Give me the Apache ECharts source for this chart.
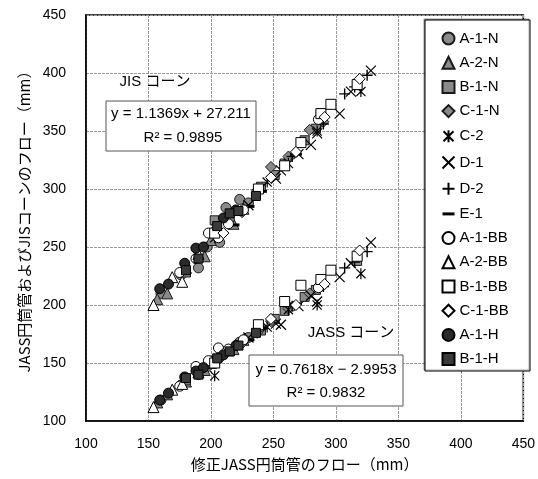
<!DOCTYPE html>
<html><head><meta charset="utf-8">
<script src="https://cdn.jsdelivr.net/npm/echarts@6/dist/echarts.min.js"></script>
<style>html,body{margin:0;padding:0;background:#fff}#c{width:538px;height:479px}</style>
</head><body><div id="c"></div>
<script>
// ---- Data (x: 修正JASS円筒管のフロー, jis: JISコーンのフロー, jass: JASS円筒管のフロー) ----
const seriesNames = ['A-1-N','A-2-N','B-1-N','C-1-N','C-2','D-1','D-2','E-1','A-1-BB','A-2-BB','B-1-BB','C-1-BB','A-1-H','B-1-H'];

const a1n_x    = [160, 176, 190, 197, 207, 212, 223, 230];
const a1n_jis  = [210, 226, 232, 250, 254, 284, 291, 288];
const a1n_jass = [118, 131, 140, 147, 155, 160, 168, 172];

const a2n_x    = [157, 165, 180, 195, 200, 218, 226];
const a2n_jis  = [205, 210, 232, 242, 256, 270, 283];
const a2n_jass = [116, 123, 134, 144, 150, 162, 170];

const b1n_x    = [180, 203, 215, 240, 251, 259, 275, 284, 288, 317];
const b1n_jis  = [228, 273, 276, 302, 312, 322, 342, 352, 365, 390];
const b1n_jass = [135, 152, 160, 178, 188, 195, 207, 213, 218, 238];

const c1n_x    = [205, 225, 237, 248, 262, 279, 290];
const c1n_jis  = [260, 280, 299, 319, 328, 351, 358];
const c1n_jass = [152, 167, 176, 186, 197, 210, 218];

const c2_x     = [203, 245, 262, 285, 320];
const c2_jis   = [258, 306, 322, 350, 384];
const c2_jass  = [139, 181, 196, 200, 227];

const d1_x     = [230, 252, 256, 270, 280, 285, 303, 312, 328];
const d1_jis   = [286, 309, 316, 330, 338, 348, 365, 384, 402];
const d1_jass  = [172, 184, 183, 199, 208, 203, 224, 236, 254];

const d2_x     = [265, 290, 307, 315, 325];
const d2_jis   = [328, 356, 382, 388, 398];
const d2_jass  = [199, 216, 232, 237, 246];

const e1_x     = [218, 230, 240, 268];
const e1_jis   = [269, 285, 298, 330];
const e1_jass  = [163, 170, 180, 201];

const a1bb_x    = [175, 188, 198, 206, 214, 226, 286];
const a1bb_jis  = [228, 240, 262, 258, 270, 282, 360];
const a1bb_jass = [130, 147, 152, 163, 162, 170, 215];

const a2bb_x    = [154, 169, 177, 190];
const a2bb_jis  = [200, 224, 220, 244];
const a2bb_jass = [112, 127, 132, 142];

const b1bb_x    = [203, 238, 259, 272, 288, 296, 317];
const b1bb_jis  = [262, 300, 320, 340, 365, 373, 390];
const b1bb_jass = [150, 183, 203, 217, 222, 230, 242];

const c1bb_x    = [210, 248, 268, 291, 319];
const c1bb_jis  = [262, 310, 332, 362, 395];
const c1bb_jass = [158, 188, 200, 218, 247];

const a1h_x    = [159, 166, 179, 188, 194, 210, 220];
const a1h_jis  = [214, 218, 236, 249, 250, 275, 282];
const a1h_jass = [118, 124, 138, 143, 146, 157, 165];

const b1h_x    = [180, 190, 205, 215, 222, 236];
const b1h_jis  = [230, 240, 268, 279, 281, 294];
const b1h_jass = [137, 140, 154, 160, 165, 176];

const axisMin = 100, axisMax = 450, axisStep = 50;

const eqJIS  = ['y = 1.1369x + 27.211', 'R² = 0.9895'];
const eqJASS = ['y = 0.7618x − 2.9953', 'R² = 0.9832'];
const lblJIS = 'JIS コーン';
const lblJASS = 'JASS コーン';
const xName = '修正JASS円筒管のフロー（mm）';
const yName = 'JASS円筒管およびJISコーンのフロー（mm）';

// ---- Build ----
const dataSets = [
  [a1n_x, a1n_jis, a1n_jass], [a2n_x, a2n_jis, a2n_jass], [b1n_x, b1n_jis, b1n_jass],
  [c1n_x, c1n_jis, c1n_jass], [c2_x, c2_jis, c2_jass], [d1_x, d1_jis, d1_jass],
  [d2_x, d2_jis, d2_jass], [e1_x, e1_jis, e1_jass], [a1bb_x, a1bb_jis, a1bb_jass],
  [a2bb_x, a2bb_jis, a2bb_jass], [b1bb_x, b1bb_jis, b1bb_jass], [c1bb_x, c1bb_jis, c1bb_jass],
  [a1h_x, a1h_jis, a1h_jass], [b1h_x, b1h_jis, b1h_jass]
];

const GRAY = '#8a8a8a', DARK = '#1a1a1a';
const PATH_AST = 'path://M0,0L10,10M10,0L0,10M5,-1L5,11';
const PATH_X = 'path://M0,0L10,10M10,0L0,10';
const PATH_PLUS = 'path://M5,0L5,10M0,5L10,5';
const PATH_DASH = 'path://M0,0H12V3H0Z';

const styles = [
  {symbol:'circle', size:10, fill:GRAY, stroke:DARK},
  {symbol:'triangle', size:11, fill:GRAY, stroke:DARK},
  {symbol:'rect', size:9, fill:GRAY, stroke:DARK},
  {symbol:'diamond', size:11, fill:GRAY, stroke:DARK},
  {symbol:PATH_AST, size:11, fill:'none', stroke:'#000', bw:1.2},
  {symbol:PATH_X, size:10, fill:'none', stroke:'#000', bw:1.2},
  {symbol:PATH_PLUS, size:11, fill:'none', stroke:'#000', bw:1.4},
  {symbol:PATH_DASH, size:12, fill:'#000', stroke:'#000', bw:0},
  {symbol:'circle', size:10, fill:'#fff', stroke:'#000'},
  {symbol:'triangle', size:11, fill:'#fff', stroke:'#000'},
  {symbol:'rect', size:10, fill:'#fff', stroke:'#000'},
  {symbol:'diamond', size:11, fill:'#fff', stroke:'#000'},
  {symbol:'circle', size:10, fill:'#2a2a2a', stroke:'#000'},
  {symbol:'rect', size:9, fill:'#3a3a3a', stroke:'#000'}
];

const series = seriesNames.map((name, i) => {
  const [xs, jis, jass] = dataSets[i];
  const data = xs.map((x, k) => [x, jis[k]]).concat(xs.map((x, k) => [x, jass[k]]));
  const s = styles[i];
  return {
    name, type:'scatter', data,
    symbol: s.symbol, symbolSize: s.size, symbolKeepAspect: true,
    itemStyle: {color: s.fill, borderColor: s.stroke, borderWidth: s.bw == null ? 1 : s.bw, opacity: 1},
    emphasis: {disabled: true}, z: 2
  };
});

const FONT = '"Liberation Sans", Arial, "Noto Sans CJK JP", sans-serif';
const JFONT = '"Noto Sans CJK JP", "Liberation Sans", sans-serif';

const chart = echarts.init(document.getElementById('c'), null, {renderer:'canvas'});
chart.setOption({
  animation: false,
  backgroundColor: '#fff',
  grid: {left: 86, right: 14, top: 15, bottom: 58, show: true, borderColor: '#000', borderWidth: 1.5},
  xAxis: {
    type:'value', min: axisMin, max: axisMax, interval: axisStep,
    name: xName, nameLocation:'middle', nameGap: 36,
    nameTextStyle: {fontFamily: JFONT, fontSize: 15, color:'#000'},
    axisLine: {show: true, lineStyle: {color:'#000', width: 1.5}},
    axisTick: {show: false},
    axisLabel: {fontFamily: FONT, fontSize: 14, color:'#000', margin: 16},
    splitLine: {show: true, lineStyle: {color:'#999', width: 1, type: [3, 1]}}
  },
  yAxis: {
    type:'value', min: axisMin, max: axisMax, interval: axisStep,
    name: yName, nameLocation:'middle', nameGap: 52, nameRotate: 90,
    nameTextStyle: {fontFamily: JFONT, fontSize: 15, color:'#000'},
    axisLine: {show: true, lineStyle: {color:'#000', width: 1.5}},
    axisTick: {show: false},
    axisLabel: {fontFamily: FONT, fontSize: 14, color:'#000', margin: 20},
    splitLine: {show: true, lineStyle: {color:'#999', width: 1, type: [3, 1]}}
  },
  legend: {
    orient:'vertical', left: 440, top: 31, padding: 0,
    itemWidth: 12, itemHeight: 12, itemGap: 9.2,
    textStyle: {fontFamily: FONT, fontSize: 15, color:'#000', padding: [0,0,0,0]},
    data: seriesNames, z: 10, selectedMode: false
  },
  graphic: [
    {type:'rect', z: 5, shape:{x:425, y:20, width:105, height:351}, style:{fill:'#fff', stroke:'#000', lineWidth:1, shadowColor:'rgba(0,0,0,0.35)', shadowOffsetX:-1, shadowOffsetY:-1, shadowBlur:1}},
    {type:'rect', z: 5, shape:{x:106, y:101, width:150, height:50}, style:{fill:'#fff', stroke:'#555', lineWidth:1}},
    {type:'text', z: 6, x:181, y:114, style:{text: eqJIS[0], font:'15px ' + FONT, fill:'#000', align:'center', verticalAlign:'middle', textAlign:'center', textVerticalAlign:'middle'}},
    {type:'text', z: 6, x:183, y:138, style:{text: eqJIS[1], font:'15px ' + FONT, fill:'#000', align:'center', verticalAlign:'middle', textAlign:'center', textVerticalAlign:'middle'}},
    {type:'rect', z: 5, shape:{x:249, y:355, width:154, height:51}, style:{fill:'#fff', stroke:'#555', lineWidth:1}},
    {type:'text', z: 6, x:326, y:370, style:{text: eqJASS[0], font:'15px ' + FONT, fill:'#000', align:'center', verticalAlign:'middle', textAlign:'center', textVerticalAlign:'middle'}},
    {type:'text', z: 6, x:326, y:393, style:{text: eqJASS[1], font:'15px ' + FONT, fill:'#000', align:'center', verticalAlign:'middle', textAlign:'center', textVerticalAlign:'middle'}},
    {type:'text', z: 6, x:155, y:82, style:{text: lblJIS, font:'15px ' + FONT, fill:'#000', align:'center', verticalAlign:'middle', textAlign:'center', textVerticalAlign:'middle'}},
    {type:'text', z: 6, x:351, y:333, style:{text: lblJASS, font:'15px ' + FONT, fill:'#000', align:'center', verticalAlign:'middle', textAlign:'center', textVerticalAlign:'middle'}}
  ],
  series
});
</script>
</body></html>
